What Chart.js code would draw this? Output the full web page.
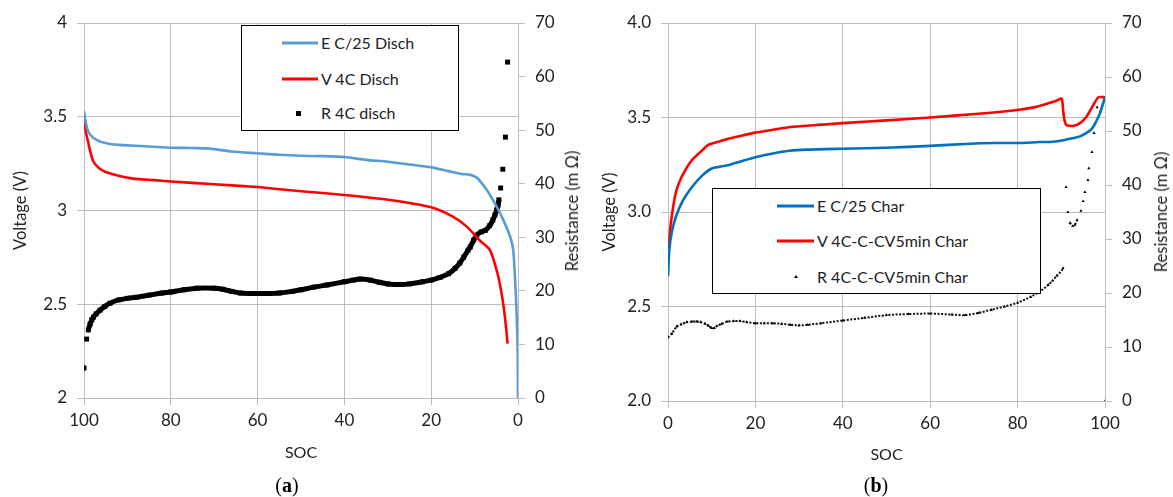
<!DOCTYPE html>
<html>
<head>
<meta charset="utf-8">
<script src="https://cdn.jsdelivr.net/npm/chart.js@4.4.1/dist/chart.umd.min.js"></script>
<style>
  body { margin: 0; width: 1173px; height: 497px; background: #fff; position: relative; overflow: hidden; font-family: Lato, sans-serif; color: #222; }
  canvas { position: absolute; top: 0; }
  .legend { position: absolute; box-sizing: border-box; border: 1px solid #000; background: #fff; }
  .item { position: absolute; font-size: 16px; line-height: 18px; white-space: nowrap; transform: translateY(-50%); }
  .sample { position: absolute; height: 3px; transform: translateY(-50%); }
  .mark { position: absolute; }
  .rtitle { position: absolute; font-size: 16.5px; white-space: nowrap; transform: translate(-50%, -50%) rotate(-90deg); }
  .cap { position: absolute; font-family: "Liberation Serif", serif; font-size: 20px; transform: translate(-50%, -50%); color: #000; }
</style>
</head>
<body>
<canvas id="chartA" width="590" height="497" style="left:0"></canvas>
<canvas id="chartB" width="583" height="497" style="left:590px"></canvas>

<div class="rtitle" style="left:572px; top:211px">Resistance (m Ω)</div>
<div class="rtitle" style="left:1161px; top:212px">Resistance (m Ω)</div>

<div class="legend" style="left:241px; top:25px; width:218px; height:106px"></div>
<div class="sample" style="left:282px; top:43px; width:36px; background:#5b9bd5"></div>
<div class="item" style="left:321px; top:43px">E C/25 Disch</div>
<div class="sample" style="left:282px; top:79px; width:36px; background:#ff0000"></div>
<div class="item" style="left:321px; top:79px">V 4C Disch</div>
<div class="mark" style="left:296px; top:111px; width:5px; height:5px; background:#000"></div>
<div class="item" style="left:321px; top:113px">R 4C disch</div>

<div class="legend" style="left:712px; top:188px; width:329px; height:106px"></div>
<div class="sample" style="left:777px; top:206px; width:37px; background:#0070c0"></div>
<div class="item" style="left:817px; top:206px">E C/25 Char</div>
<div class="sample" style="left:777px; top:241px; width:37px; background:#ff0000"></div>
<div class="item" style="left:817px; top:241px">V 4C-C-CV5min Char</div>
<div class="mark" style="left:794px; top:275px; width:0; height:0; border-left:2px solid transparent; border-right:2px solid transparent; border-bottom:3px solid #000"></div>
<div class="item" style="left:817px; top:277px">R 4C-C-CV5min Char</div>

<div class="cap" style="left:287px; top:485px">(<b>a</b>)</div>
<div class="cap" style="left:876px; top:485px">(<b>b</b>)</div>

<script>
// ---- (a) discharge ----
const socA_E = [100, 99.5, 99, 98, 97, 96, 94, 92, 88, 84, 80, 75, 71, 66, 60, 55, 50, 45, 40, 35, 30, 25, 20, 16, 13, 11, 9.5, 8.5, 7.2, 6, 4.9, 3.4, 1.8, 1.1, 0.5, 0.1, 0];
const voltA_E = [3.53, 3.46, 3.42, 3.39, 3.375, 3.365, 3.355, 3.35, 3.345, 3.34, 3.335, 3.333, 3.33, 3.315, 3.305, 3.297, 3.292, 3.29, 3.285, 3.27, 3.26, 3.245, 3.23, 3.21, 3.195, 3.19, 3.175, 3.15, 3.11, 3.065, 3.02, 2.95, 2.86, 2.79, 2.55, 2.28, 2.0];

const socA_V = [100, 99.5, 99, 98.5, 97.8, 96.5, 95, 92, 88.7, 84, 80, 70, 60, 54.8, 50, 40, 29.5, 20, 15, 11.8, 8.8, 6.5, 4.9, 3.8, 3.0, 2.4];
const voltA_V = [3.48, 3.41, 3.36, 3.31, 3.26, 3.225, 3.205, 3.185, 3.17, 3.162, 3.155, 3.14, 3.125, 3.113, 3.103, 3.083, 3.056, 3.017, 2.967, 2.914, 2.84, 2.79, 2.68, 2.56, 2.43, 2.29];

const socA_R = [100, 99.4, 99, 98.6, 98.2, 97.8, 97.2, 96.3, 95.2, 94, 92, 90, 88, 85, 82, 80, 77, 74, 70, 68, 66, 64, 61, 58, 55, 52, 50, 47, 44, 40, 38, 36.4, 34, 32, 30, 27, 25, 22, 20, 18, 16, 14.5, 13.4, 12.5, 11.5, 11, 10.2, 9.5, 8.5, 7.5, 6.5, 5.8, 5.3, 4.9, 4.6, 4.4, 4.0, 3.5, 2.9, 2.4];
const resA_R = [5.6, 11.0, 12.7, 13.8, 14.6, 15.1, 15.7, 16.4, 17.1, 17.7, 18.3, 18.6, 18.8, 19.2, 19.6, 19.8, 20.2, 20.5, 20.5, 20.3, 19.9, 19.6, 19.5, 19.5, 19.6, 19.9, 20.2, 20.7, 21.1, 21.7, 22.0, 22.2, 22.0, 21.6, 21.3, 21.2, 21.3, 21.7, 22.0, 22.5, 23.2, 24.2, 25.2, 26.3, 27.6, 28.2, 29.5, 30.4, 31.0, 31.3, 32.2, 33.2, 34.2, 35.1, 36.0, 37.0, 39.2, 42.7, 48.7, 62.7];

// ---- (b) charge ----
const socB_E = [0, 0.3, 0.84, 1.8, 3.4, 5.4, 7.7, 10, 12, 14.2, 17, 20, 24, 27.8, 31.6, 40, 50, 60, 68, 75, 80, 85, 88, 90.5, 92.5, 94.3, 95.5, 96.5, 97.3, 98, 98.8, 99.5, 100];
const voltB_E = [2.66, 2.8, 2.89, 2.975, 3.06, 3.13, 3.19, 3.23, 3.24, 3.25, 3.27, 3.29, 3.31, 3.324, 3.33, 3.335, 3.34, 3.35, 3.36, 3.365, 3.365, 3.37, 3.372, 3.38, 3.39, 3.40, 3.415, 3.43, 3.45, 3.48, 3.52, 3.57, 3.61];

const socB_V = [0, 0.3, 0.6, 1, 1.5, 2, 3, 4.3, 5.5, 6.6, 8, 9.2, 10.5, 12, 14.2, 17, 20, 24, 28, 34, 40, 50, 60, 71, 80, 84, 87, 89, 90.1, 90.5, 90.8, 91.2, 92.7, 94.3, 95.8, 97.3, 98.5, 100];
const voltB_V = [2.76, 2.85, 2.93, 3.0, 3.07, 3.12, 3.18, 3.235, 3.275, 3.30, 3.33, 3.355, 3.365, 3.375, 3.39, 3.405, 3.42, 3.435, 3.45, 3.46, 3.47, 3.485, 3.50, 3.52, 3.54, 3.555, 3.575, 3.59, 3.60, 3.52, 3.478, 3.46, 3.455, 3.47, 3.505, 3.565, 3.607, 3.607];

const socB_R = [0, 0.9, 2, 3, 4.3, 5.5, 6.6, 7.5, 8.5, 9.3, 10, 10.6, 11.2, 12.3, 13.5, 15, 16.5, 18, 20, 22, 24, 26, 28, 30, 32, 35, 40, 45, 50, 55, 60, 65, 68, 71, 74, 77, 80, 83, 85, 87, 88, 89, 90.4, 91.1, 91.5, 92, 92.6, 93.1, 93.6, 94.5, 95, 95.4, 96.1, 96.3, 97, 97.5, 98.2, 100];
const resB_R = [11.8, 12.5, 13.8, 14.2, 14.6, 14.7, 14.7, 14.6, 14.3, 13.9, 13.5, 13.5, 13.9, 14.3, 14.7, 14.8, 14.8, 14.6, 14.4, 14.4, 14.4, 14.3, 14.1, 14.0, 14.1, 14.4, 14.9, 15.4, 15.9, 16.1, 16.2, 16.0, 15.9, 16.3, 16.9, 17.5, 18.2, 19.3, 20.2, 21.5, 22.3, 23.2, 24.6, 39.6, 35.0, 33.0, 32.4, 32.6, 33.5, 35.2, 37.0, 38.7, 40.9, 43.1, 46.1, 49.6, 54.4, 0];

const voltTicks = [2, 2.5, 3, 3.5, 4];
const resTicks = [0, 10, 20, 30, 40, 50, 60, 70];

const GRID = "#bcbcbc";
const TXT = "#222";
const pts = (xs, ys) => xs.map((x, i) => ({ x: x, y: ys[i] }));
// don't join far-apart R samples (isolated markers in the original)
const gapSeg = { borderColor: (ctx) => (Math.abs(ctx.p1.y - ctx.p0.y) > 8 ? "rgba(0,0,0,0)" : undefined) };

function fixW(w) { return (s) => { s.width = w; }; }
function fixH(h) { return (s) => { s.height = h; }; }

function makeChart(id, cfg) {
  return new Chart(id, {
    type: "scatter",
    data: { datasets: cfg.datasets },
    options: {
      responsive: false,
      animation: false,
      events: [],
      devicePixelRatio: 1,
      layout: { padding: { top: 23, left: 0, right: 0, bottom: 0 } },
      plugins: { legend: { display: false }, tooltip: { enabled: false } },
      scales: {
        x: {
          type: "linear", min: 0, max: 100, reverse: cfg.reverse,
          afterFit: fixH(cfg.bottomH),
          ticks: { stepSize: 20, color: TXT, font: { family: "Lato", size: 17 }, padding: 5, maxRotation: 0 },
          grid: { color: GRID, tickLength: 7 },
          border: { color: GRID },
          title: { display: true, text: "SOC", color: TXT, font: { family: "Lato", size: 16 }, padding: { top: 0, bottom: cfg.socPad } }
        },
        y: {
          position: "left", min: 2, max: 4,
          afterFit: fixW(cfg.leftW),
          afterBuildTicks: (s) => { s.ticks = voltTicks.map((v) => ({ value: v })); },
          ticks: { color: TXT, font: { family: "Lato", size: 17 }, padding: 10, callback: cfg.voltFmt },
          grid: { color: GRID, tickLength: 7 },
          border: { color: GRID },
          title: { display: true, text: "Voltage (V)", color: TXT, font: { family: "Lato", size: 16.5 }, padding: { top: cfg.vPad, bottom: 0 } }
        },
        y2: {
          position: "right", min: 0, max: 70,
          afterFit: fixW(cfg.rightW),
          afterBuildTicks: (s) => { s.ticks = resTicks.map((v) => ({ value: v })); },
          ticks: { color: TXT, font: { family: "Lato", size: 17 }, padding: 10 },
          grid: { drawOnChartArea: false, color: GRID, tickLength: 7 },
          border: { color: GRID }
        }
      }
    }
  });
}

makeChart("chartA", {
  leftW: 84, rightW: 72, bottomH: 99, reverse: true, socPad: 35, vPad: 11,
  voltFmt: (v) => String(v),
  datasets: [
    { label: "E C/25 Disch", data: pts(socA_E, voltA_E), yAxisID: "y", showLine: true, borderColor: "#5b9bd5", borderWidth: 2.6, pointRadius: 0, tension: 0.25 },
    { label: "V 4C Disch", data: pts(socA_V, voltA_V), yAxisID: "y", showLine: true, borderColor: "#ff0000", borderWidth: 2.6, pointRadius: 0, tension: 0.25 },
    { label: "R 4C disch", data: pts(socA_R, resA_R), yAxisID: "y2", showLine: true, borderColor: "#000", borderWidth: 5, tension: 0.2,
      segment: gapSeg, pointStyle: "rect", pointRadius: 3.5, pointBackgroundColor: "#000", pointBorderWidth: 0 }
  ]
});

makeChart("chartB", {
  leftW: 78, rightW: 68, bottomH: 96, reverse: false, socPad: 33, vPad: 10,
  voltFmt: (v) => v.toFixed(1),
  datasets: [
    { label: "E C/25 Char", data: pts(socB_E, voltB_E), yAxisID: "y", showLine: true, borderColor: "#0070c0", borderWidth: 2.6, pointRadius: 0, tension: 0.25 },
    { label: "V 4C-C-CV5min Char", data: pts(socB_V, voltB_V), yAxisID: "y", showLine: true, borderColor: "#ff0000", borderWidth: 2.6, pointRadius: 0, tension: 0.2 },
    { label: "R 4C-C-CV5min Char", data: pts(socB_R, resB_R), yAxisID: "y2", showLine: true, borderColor: "#111", borderWidth: 2, borderDash: [2, 1.5], tension: 0.2,
      segment: gapSeg, pointStyle: "triangle", pointRadius: 1.8, pointBackgroundColor: "#000", pointBorderWidth: 0 }
  ]
});
</script>
</body>
</html>
